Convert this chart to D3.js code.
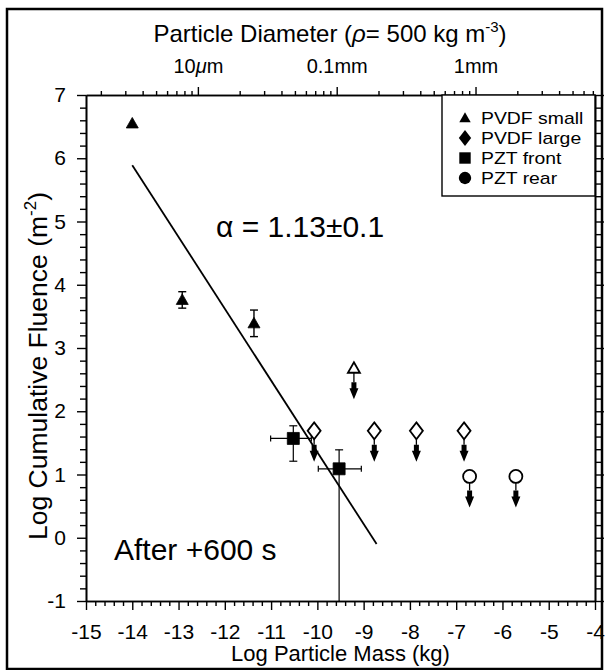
<!DOCTYPE html>
<html>
<head>
<meta charset="utf-8">
<script src="https://cdn.jsdelivr.net/npm/d3@7"></script>
<style>
  body { margin: 0; background: #fff; }
  text { font-family: 'Liberation Sans', Arial, Helvetica, sans-serif; fill: #000; }
</style>
</head>
<body>
<div id="chart"></div>
<script>
// --- data ---
const massTicks = [-15, -14, -13, -12, -11, -10, -9, -8, -7, -6, -5, -4];
const fluenceTicks = [-1, 0, 1, 2, 3, 4, 5, 6, 7];
const diameterTicks = [1e-5, 1e-4, 1e-3];
const diameterTickLabels = ['10', '0.1mm', '1mm'];
const density = 500; // kg m^-3

// PVDF small (filled triangles)
const pvdfSmallMass = [-14.0, -12.92, -11.37];
const pvdfSmallFluence = [6.55, 3.76, 3.39];
const pvdfSmallErr = [0, 0.13, 0.21];

// PVDF small upper limit (open triangle)
const pvdfSmallLimitMass = [-9.21];
const pvdfSmallLimitFluence = [2.68];

// PVDF large upper limits (open diamonds)
const pvdfLargeMass = [-10.07, -8.77, -7.86, -6.83];
const pvdfLargeFluence = [1.69, 1.69, 1.69, 1.69];

// PZT front (filled squares)
const pztFrontMass = [-10.52, -9.53];
const pztFrontFluence = [1.57, 1.09];
const pztFrontMassLo = [-11.01, -9.98];
const pztFrontMassHi = [-10.13, -9.05];
const pztFrontFluenceLo = [1.21, null]; // null: bar runs off the bottom
const pztFrontFluenceHi = [1.77, 1.39];

// PZT rear upper limits (open circles)
const pztRearMass = [-6.71, -5.71];
const pztRearFluence = [0.97, 0.97];

// power-law fit
const fitMass = [-14.0, -8.72];
const fitFluence = [5.89, -0.1];

const legendLabels = ['PVDF small', 'PVDF large', 'PZT front', 'PZT rear'];
const legendShapes = ['triangle', 'diamond', 'square', 'circle'];

// --- layout ---
const W = 607, H = 670;
const plot = { left: 86, right: 595, top: 95, bottom: 601 };

const svg = d3.select('#chart').append('svg')
  .attr('width', W).attr('height', H);

// outer frame of the figure
svg.append('rect')
  .attr('x', 7).attr('y', 9).attr('width', 595).attr('height', 660)
  .attr('fill', 'none').attr('stroke', '#000').attr('stroke-width', 2.5);

const x = d3.scaleLinear().domain([-15, -4]).range([plot.left, plot.right]);
const y = d3.scaleLinear().domain([-1, 7]).range([plot.bottom, plot.top]);

// diameter <-> mass for a sphere of given density
const diamOf = m => Math.cbrt(m / (density * Math.PI / 6));
const xd = d3.scaleLog()
  .domain([diamOf(1e-15), diamOf(1e-4)])
  .range([plot.left, plot.right]);

// minor ticks
const minorMass = d3.range(-15, -4 + 1e-9, 0.2).filter(v => Math.abs(v - Math.round(v)) > 1e-6);
const minorFluence = d3.range(-1, 7 + 1e-9, 0.2).filter(v => Math.abs(v - Math.round(v)) > 1e-6);
const minorDiam = [];
[1e-6, 1e-5, 1e-4, 1e-3].forEach(dec => {
  for (let k = 2; k <= 9; k++) {
    const d = dec * k;
    if (d >= xd.domain()[0] && d <= xd.domain()[1]) minorDiam.push(d);
  }
});

const hyphenInt = d => String(d); // plain hyphen minus, like the original

function styleAxis(g) {
  g.select('.domain').attr('stroke', '#000').attr('stroke-width', 1.6);
  g.selectAll('.tick line').attr('stroke', '#000').attr('stroke-width', 1.4);
  g.selectAll('.tick text').attr('font-size', 21).attr('fill', '#000')
    .attr('font-family', "'Liberation Sans', Arial, sans-serif");
}

// bottom axis
svg.append('g').attr('transform', `translate(0,${plot.bottom})`)
  .call(d3.axisBottom(x).tickValues(minorMass).tickSize(5).tickSizeOuter(0).tickFormat(''))
  .call(styleAxis);
svg.append('g').attr('transform', `translate(0,${plot.bottom})`)
  .call(d3.axisBottom(x).tickValues(massTicks).tickSize(9).tickSizeOuter(0).tickPadding(14).tickFormat(hyphenInt))
  .call(styleAxis);

// left axis
svg.append('g').attr('transform', `translate(${plot.left},0)`)
  .call(d3.axisLeft(y).tickValues(minorFluence).tickSize(6).tickSizeOuter(0).tickFormat(''))
  .call(styleAxis);
svg.append('g').attr('transform', `translate(${plot.left},0)`)
  .call(d3.axisLeft(y).tickValues(fluenceTicks).tickSize(9).tickSizeOuter(0).tickPadding(11).tickFormat(hyphenInt))
  .call(styleAxis);

// right axis
svg.append('g').attr('transform', `translate(${plot.right},0)`)
  .call(d3.axisRight(y).tickValues(minorFluence).tickSize(6).tickSizeOuter(0).tickFormat(''))
  .call(styleAxis);
svg.append('g').attr('transform', `translate(${plot.right},0)`)
  .call(d3.axisRight(y).tickValues(fluenceTicks).tickSize(9).tickSizeOuter(0).tickFormat(''))
  .call(styleAxis);

// top axis: particle diameter
svg.append('g').attr('transform', `translate(0,${plot.top})`)
  .call(d3.axisTop(xd).tickValues(minorDiam).tickSize(4).tickSizeOuter(0).tickFormat(''))
  .call(styleAxis);
const topAxis = svg.append('g').attr('transform', `translate(0,${plot.top})`)
  .call(d3.axisTop(xd).tickValues(diameterTicks).tickSize(8).tickSizeOuter(0).tickPadding(14).tickFormat(''))
  .call(styleAxis);
topAxis.selectAll('.tick text').attr('font-size', 20).each(function (d, i) {
  const t = d3.select(this);
  if (i === 0) {
    t.append('tspan').text(diameterTickLabels[0]);
    t.append('tspan').attr('font-style', 'italic').text('\u03bc');
    t.append('tspan').text('m');
  } else {
    t.text(diameterTickLabels[i]);
  }
});

// titles
const topTitle = svg.append('text')
  .attr('x', 330).attr('y', 42).attr('text-anchor', 'middle').attr('font-size', 24);
topTitle.append('tspan').text('Particle Diameter (');
topTitle.append('tspan').attr('font-style', 'italic').text('\u03c1');
topTitle.append('tspan').text('= 500 kg m');
topTitle.append('tspan').attr('font-size', 15).attr('dy', -10).text('-3');
topTitle.append('tspan').attr('dy', 10).text(')');

svg.append('text')
  .attr('x', (plot.left + plot.right) / 2).attr('y', 661)
  .attr('text-anchor', 'middle').attr('font-size', 22)
  .text('Log Particle Mass (kg)');

const yTitle = svg.append('text')
  .attr('transform', `translate(47,366) rotate(-90)`)
  .attr('text-anchor', 'middle').attr('font-size', 26.5);
yTitle.append('tspan').text('Log Cumulative Fluence (m');
yTitle.append('tspan').attr('font-size', 17).attr('dy', -11).text('-2');
yTitle.append('tspan').attr('dy', 11).text(')');

// annotations
svg.append('text').attr('x', 216).attr('y', 237).attr('font-size', 30)
  .text('\u03b1 = 1.13\u00b10.1');
svg.append('text').attr('x', 114).attr('y', 560).attr('font-size', 30)
  .text('After +600 s');

// marker shapes
function shapePath(kind) {
  switch (kind) {
    case 'triangle': return 'M0,-6L6,4.5L-6,4.5Z';
    case 'diamond': return 'M0,-8.5L6.5,0L0,8.5L-6.5,0Z';
    case 'square': return 'M-6,-6H6V6H-6Z';
    default: return d3.symbol(d3.symbolCircle, Math.PI * 6.5 * 6.5)();
  }
}
const halfHeight = { triangle: 4.5, diamond: 8.5, square: 6, circle: 6.5 };

// fit line
svg.append('path')
  .datum(d3.zip(fitMass, fitFluence))
  .attr('fill', 'none').attr('stroke', '#000').attr('stroke-width', 1.8)
  .attr('d', d3.line().x(d => x(d[0])).y(d => y(d[1])));

// error bars for PVDF small
pvdfSmallMass.forEach((m, i) => {
  const e = pvdfSmallErr[i];
  if (!e) return;
  const cx = x(m);
  svg.append('line').attr('x1', cx).attr('x2', cx)
    .attr('y1', y(pvdfSmallFluence[i] - e)).attr('y2', y(pvdfSmallFluence[i] + e))
    .attr('stroke', '#000').attr('stroke-width', 1.4);
  [pvdfSmallFluence[i] - e, pvdfSmallFluence[i] + e].forEach(v => {
    svg.append('line').attr('x1', cx - 4).attr('x2', cx + 4)
      .attr('y1', y(v)).attr('y2', y(v))
      .attr('stroke', '#000').attr('stroke-width', 1.4);
  });
});

// error bars for PZT front
pztFrontMass.forEach((m, i) => {
  const cx = x(m), cy = y(pztFrontFluence[i]);
  const lo = pztFrontFluenceLo[i];
  const yLo = lo === null ? plot.bottom : y(lo);
  const yHi = y(pztFrontFluenceHi[i]);
  const bar = (x1, y1, x2, y2) => svg.append('line')
    .attr('x1', x1).attr('y1', y1).attr('x2', x2).attr('y2', y2)
    .attr('stroke', '#000').attr('stroke-width', 1.2);
  bar(cx, yHi, cx, yLo);
  bar(cx - 4, yHi, cx + 4, yHi);
  if (lo !== null) bar(cx - 4, yLo, cx + 4, yLo);
  const xLo = x(pztFrontMassLo[i]), xHi = x(pztFrontMassHi[i]);
  bar(xLo, cy, xHi, cy);
  bar(xLo, cy - 3, xLo, cy + 3);
  bar(xHi, cy - 3, xHi, cy + 3);
});

// upper-limit arrows
function limitArrow(cx, cy, kind) {
  const top = cy + halfHeight[kind];
  const tip = cy + 31;
  const head = tip - 17;
  svg.append('line').attr('x1', cx).attr('x2', cx).attr('y1', top).attr('y2', head)
    .attr('stroke', '#000').attr('stroke-width', 1.3);
  svg.append('path')
    .attr('d', `M${cx - 2.5},${head}L${cx + 2.5},${head}L${cx + 2.5},${head + 6}L${cx + 4.5},${head + 6}` +
      `L${cx},${tip}L${cx - 4.5},${head + 6}L${cx - 2.5},${head + 6}Z`)
    .attr('fill', '#000');
}

function drawMarkers(masses, fluences, kind, open, limit) {
  masses.forEach((m, i) => {
    const cx = x(m), cy = y(fluences[i]);
    if (limit) limitArrow(cx, cy, kind);
    svg.append('path')
      .attr('d', shapePath(kind))
      .attr('transform', `translate(${cx},${cy})`)
      .attr('fill', open ? '#fff' : '#000')
      .attr('stroke', '#000').attr('stroke-width', open ? 1.8 : 0.8);
  });
}

drawMarkers(pvdfSmallMass, pvdfSmallFluence, 'triangle', false, false);
drawMarkers(pvdfSmallLimitMass, pvdfSmallLimitFluence, 'triangle', true, true);
drawMarkers(pvdfLargeMass, pvdfLargeFluence, 'diamond', true, true);
drawMarkers(pztFrontMass, pztFrontFluence, 'square', false, false);
drawMarkers(pztRearMass, pztRearFluence, 'circle', true, true);

// legend (original font is wider than Arial, so stretch a little)
svg.append('rect')
  .attr('x', 442).attr('y', plot.top).attr('width', plot.right - 442).attr('height', 101)
  .attr('fill', '#fff').attr('stroke', '#000').attr('stroke-width', 1.4);
const legend = svg.selectAll('.legend')
  .data(legendLabels)
  .enter()
  .append('g')
  .attr('class', 'legend')
  .attr('transform', (d, i) => `translate(465,${118 + i * 20})`);
legend.append('path')
  .attr('d', (d, i) => shapePath(legendShapes[i]))
  .attr('transform', 'scale(0.95)')
  .attr('fill', '#000');
legend.append('text')
  .attr('x', 16).attr('dy', '0.36em').attr('font-size', 17)
  .attr('fill', '#111')
  .text(d => d)
  .each(function () {
    const w = this.getComputedTextLength();
    d3.select(this).attr('textLength', w * 1.14).attr('lengthAdjust', 'spacingAndGlyphs');
  });
</script>
</body>
</html>
